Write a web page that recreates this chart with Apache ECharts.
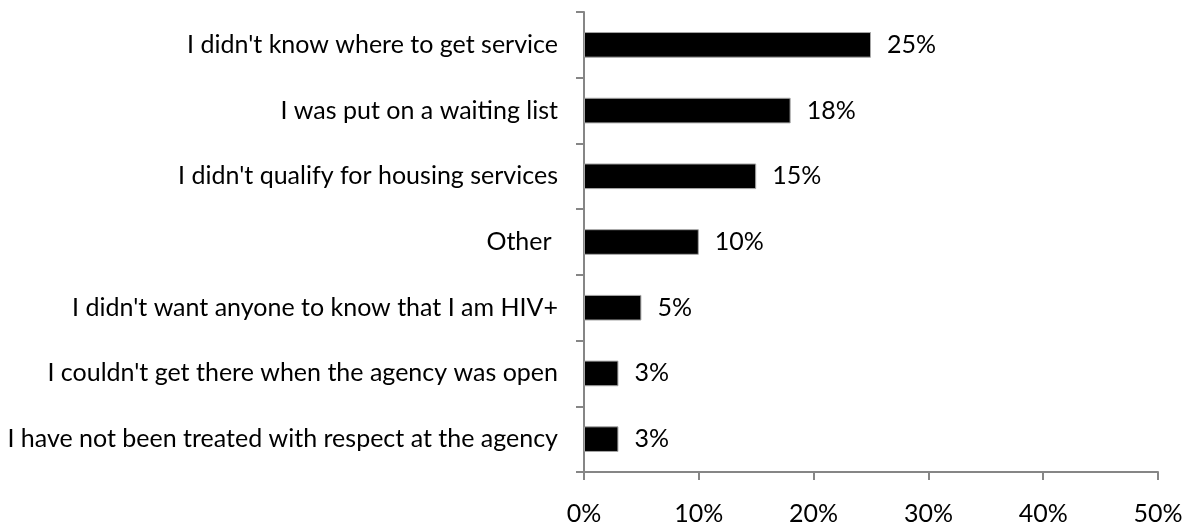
<!DOCTYPE html>
<html>
<head>
<meta charset="utf-8">
<script src="https://cdn.jsdelivr.net/npm/echarts@6/dist/echarts.min.js"></script>
<style>
  html, body { margin: 0; padding: 0; background: #fff; }
  #chart { width: 1188px; height: 527px; }
</style>
</head>
<body>
<div id="chart"></div>
<script>
// categories listed top to bottom
const categories = [
  "I didn't know where to get service",
  "I was put on a waiting list",
  "I didn't qualify for housing services",
  "Other ",
  "I didn't want anyone to know that I am HIV+",
  "I couldn't get there when the agency was open",
  "I have not been treated with respect at the agency"
]
const percents = [25, 18, 15, 10, 5, 3, 3]
const xTicks = [0, 10, 20, 30, 40, 50]

const font = 'Lato'
const fsize = 25
const axisGray = '#868686'

const chart = echarts.init(document.getElementById('chart'))
chart.setOption({
  animation: false,
  backgroundColor: '#fff',
  grid: { left: 584, right: 30, top: 12, bottom: 55, containLabel: false },
  xAxis: {
    type: 'value',
    min: xTicks[0],
    max: xTicks[xTicks.length - 1],
    interval: 10,
    axisLine: { show: true, lineStyle: { color: axisGray, width: 2 } },
    axisTick: { show: true, length: 8, lineStyle: { color: axisGray, width: 2 } },
    splitLine: { show: false },
    axisLabel: {
      formatter: v => v + '%',
      margin: 29,
      color: '#000',
      fontFamily: font,
      fontSize: fsize
    }
  },
  yAxis: {
    type: 'category',
    inverse: true,
    data: categories,
    axisLine: { show: true, lineStyle: { color: axisGray, width: 2 } },
    axisTick: { show: true, length: 8, alignWithLabel: false, lineStyle: { color: axisGray, width: 2 } },
    axisLabel: {
      margin: 26,
      color: '#000',
      fontFamily: font,
      fontSize: fsize
    }
  },
  series: [{
    type: 'bar',
    data: percents,
    barCategoryGap: '61%',
    itemStyle: { color: '#000', borderColor: '#a6a6a6', borderWidth: 1 },
    label: {
      show: true,
      position: 'right',
      distance: 16,
      formatter: p => p.value + '%',
      color: '#000',
      fontFamily: font,
      fontSize: fsize
    }
  }]
})
</script>
</body>
</html>
